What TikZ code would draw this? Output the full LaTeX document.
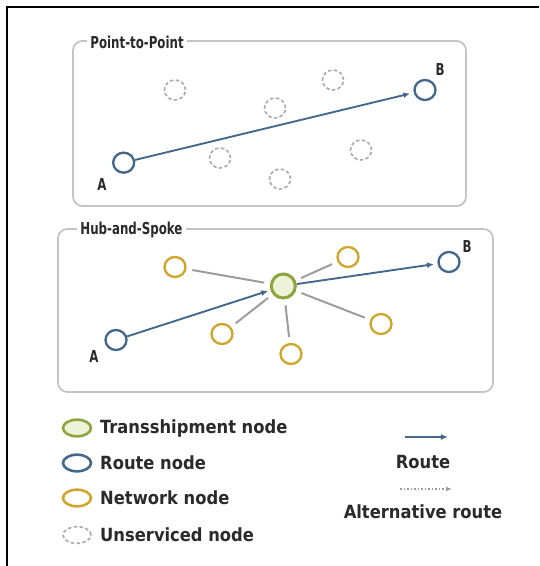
\documentclass[tikz,border=0pt]{standalone}
\usepackage{fontspec}
\setmainfont{DejaVu Sans Condensed}
\newfontfamily\estrecha{DejaVu Sans Condensed}[FakeStretch=0.8]
\usetikzlibrary{arrows.meta,shapes.geometric}
\definecolor{azul}{HTML}{44678C}
\definecolor{oro}{HTML}{CFA52A}
\definecolor{verde}{HTML}{8CA53E}
\definecolor{verdeclaro}{HTML}{EEF2D8}
\definecolor{gris}{HTML}{9C9C9C}
\definecolor{borde}{HTML}{C4C4C4}
\definecolor{texto}{HTML}{2A2A2A}
\begin{document}
\begin{tikzpicture}[
  panel/.style={draw=borde, line width=1.5pt, rounded corners=8pt},
  titulo/.style={fill=white, inner xsep=3pt, inner ysep=1pt, anchor=west,
                 font=\estrecha\bfseries\fontsize{14}{16}\selectfont, text=texto},
  letra/.style={font=\estrecha\bfseries\fontsize{14}{16}\selectfont, text=texto, inner sep=0pt},
  circulo/.style={ellipse, draw, line width=2pt, minimum width=0.63cm,
                  minimum height=0.6cm, inner sep=0pt},
  routenode/.style={circulo, draw=azul},
  netnode/.style={circulo, draw=oro},
  hubnode/.style={circulo, draw=verde, fill=verdeclaro, line width=2.6pt,
                  minimum width=0.72cm, minimum height=0.72cm},
  offnode/.style={circulo, draw=gris!85, line width=1.4pt, dash pattern=on 3pt off 2pt},
  leyenda/.style={minimum width=0.84cm, minimum height=0.5cm, line width=2.2pt},
  etiqueta/.style={font=\bfseries\fontsize{15.5}{18}\selectfont, text=texto, anchor=west, inner sep=0pt},
  ruta/.style={-{Latex[length=6pt,width=5pt]}, draw=azul, line width=1.6pt},
  spoke/.style={draw=gris, line width=1.7pt, shorten <=5pt, shorten >=5pt},
  alterna/.style={-{Latex[length=5pt,width=4pt]}, draw=gris, line width=1pt, dash pattern=on 1.5pt off 1.5pt}
]
  \useasboundingbox (0,0) rectangle (16.17,-16.98);
  % marco
  \draw[line width=2pt] (16.17,-0.21) -- (0.21,-0.21) -- (0.21,-16.98);

  % Point-to-Point
  \draw[panel] (2.19,-1.23) rectangle (13.98,-6.18);
  \node[titulo] (t1) at (2.6,-1.26) {Point-to-Point};
  \node[offnode] (o1) at (5.25,-2.70) {};
  \node[offnode] (o2) at (9.99,-2.40) {};
  \node[offnode] (o3) at (8.25,-3.24) {};
  \node[offnode] (o4) at (6.60,-4.74) {};
  \node[offnode] (o5) at (10.83,-4.50) {};
  \node[offnode] (o6) at (8.40,-5.37) {};
  \node[routenode] (a1) at (3.71,-4.88) {};
  \node[routenode] (b1) at (12.75,-2.70) {};
  \node[letra] (la1) at (3.06,-5.55) {A};
  \node[letra] (lb1) at (13.20,-2.10) {B};
  \draw[ruta, shorten >=3pt] (a1) -- (b1);

  % Hub-and-Spoke
  \draw[panel] (1.74,-6.87) rectangle (14.79,-11.76);
  \node[titulo] (t2) at (2.3,-6.90) {Hub-and-Spoke};
  \node[hubnode] (hub) at (8.50,-8.58) {};
  \node[netnode] (n1) at (5.25,-8.01) {};
  \node[netnode] (n2) at (10.44,-7.71) {};
  \node[netnode] (n3) at (11.43,-9.72) {};
  \node[netnode] (n4) at (6.66,-10.02) {};
  \node[netnode] (n5) at (8.73,-10.62) {};
  \node[routenode] (a2) at (3.48,-10.20) {};
  \node[routenode] (b2) at (13.47,-7.86) {};
  \node[letra] (la2) at (2.82,-10.71) {A};
  \node[letra] (lb2) at (14.01,-7.41) {B};
  \foreach \n in {n1,n2,n3,n4,n5}
    \draw[spoke] (hub) -- (\n);
  \draw[ruta, shorten >=2pt] (a2) -- (hub);
  \draw[ruta, shorten >=3pt] (hub) -- (b2);

  % leyenda
  \node[hubnode, leyenda] (k1) at (2.31,-12.84) {};
  \node[routenode, leyenda] (k2) at (2.31,-13.89) {};
  \node[netnode, leyenda] (k3) at (2.31,-14.94) {};
  \node[offnode, leyenda, line width=1.4pt] (k4) at (2.31,-16.05) {};
  \node[etiqueta] (e1) at (3.0,-12.84) {Transshipment node};
  \node[etiqueta] (e2) at (3.0,-13.89) {Route node};
  \node[etiqueta] (e3) at (3.0,-14.94) {Network node};
  \node[etiqueta] (e4) at (3.0,-16.05) {Unserviced node};
  \coordinate (r1) at (12.15,-13.11);
  \coordinate (r2) at (13.44,-13.11);
  \coordinate (s1) at (12.00,-14.67);
  \coordinate (s2) at (13.56,-14.67);
  \draw[ruta] (r1) -- (r2);
  \draw[alterna] (s1) -- (s2);
  \node[etiqueta, anchor=center] (e5) at (12.69,-13.86) {Route};
  \node[etiqueta, anchor=center] (e6) at (12.69,-15.36) {Alternative route};
\end{tikzpicture}
\end{document}
